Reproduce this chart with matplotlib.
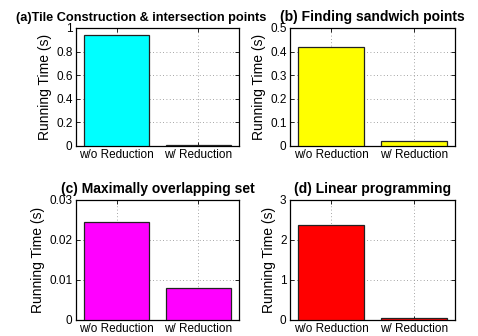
import matplotlib
matplotlib.use("Agg")
import matplotlib.pyplot as plt

plt.rcParams['font.family'] = ['Liberation Sans', 'DejaVu Sans']

categories = ["w/o Reduction", "w/ Reduction"]
titles = ["(a)Tile Construction & intersection points",
          "(b) Finding sandwich points",
          "(c) Maximally overlapping set",
          "(d) Linear programming"]
values_a = [0.94, 0.01]
values_b = [0.42, 0.02]
values_c = [0.0245, 0.008]
values_d = [2.37, 0.05]
colors = ["#00ffff", "#ffff00", "#ff00ff", "#ff0000"]
yticks_list = [[0, 0.2, 0.4, 0.6, 0.8, 1],
               [0, 0.1, 0.2, 0.3, 0.4, 0.5],
               [0, 0.01, 0.02, 0.03],
               [0, 1, 2, 3]]
ytick_labels = [["0", "0.2", "0.4", "0.6", "0.8", "1"],
                ["0", "0.1", "0.2", "0.3", "0.4", "0.5"],
                ["0", "0.01", "0.02", "0.03"],
                ["0", "1", "2", "3"]]
all_values = [values_a, values_b, values_c, values_d]

W, H = 478, 336
fig = plt.figure(figsize=(W / 100, H / 100), dpi=100)

# axes boxes in pixels: left, top, right, bottom
boxes = [(76, 28, 239, 146), (290, 28, 455, 146),
         (76, 200, 239, 320), (290, 200, 455, 320)]

for i, (box, vals, col, yt, ytl, title) in enumerate(
        zip(boxes, all_values, colors, yticks_list, ytick_labels, titles)):
    l, t, r, b = box
    ax = fig.add_axes([l / W, 1 - b / H, (r - l) / W, (b - t) / H])
    x = [1, 2]
    ax.bar(x, vals, width=0.8, color=col, edgecolor="#222222", linewidth=0.9, zorder=3)
    ax.set_xlim(0.5, 2.5)
    ax.set_ylim(yt[0], yt[-1])
    ax.set_xticks(x)
    ax.set_xticklabels(categories, fontsize=8.5)
    ax.set_yticks(yt)
    ax.set_yticklabels(ytl, fontsize=8.5)
    ax.tick_params(direction="in", length=3, width=0.6, top=True, right=True, pad=2.5)
    ax.grid(True, linestyle=(0, (1, 3)), color="#888888", linewidth=0.6, zorder=0)
    ax.set_axisbelow(True)
    for s in ax.spines.values():
        s.set_linewidth(0.9)
    ax.set_ylabel("Running Time (s)", fontsize=10, labelpad=3)
    if i == 0:
        ax.set_title(title, fontsize=9.2, fontweight="bold", loc="left",
                     x=(16 - l) / (r - l), pad=5)
    else:
        ax.set_title(title, fontsize=10, fontweight="bold", pad=5)

fig.savefig("out.png", dpi=100)
